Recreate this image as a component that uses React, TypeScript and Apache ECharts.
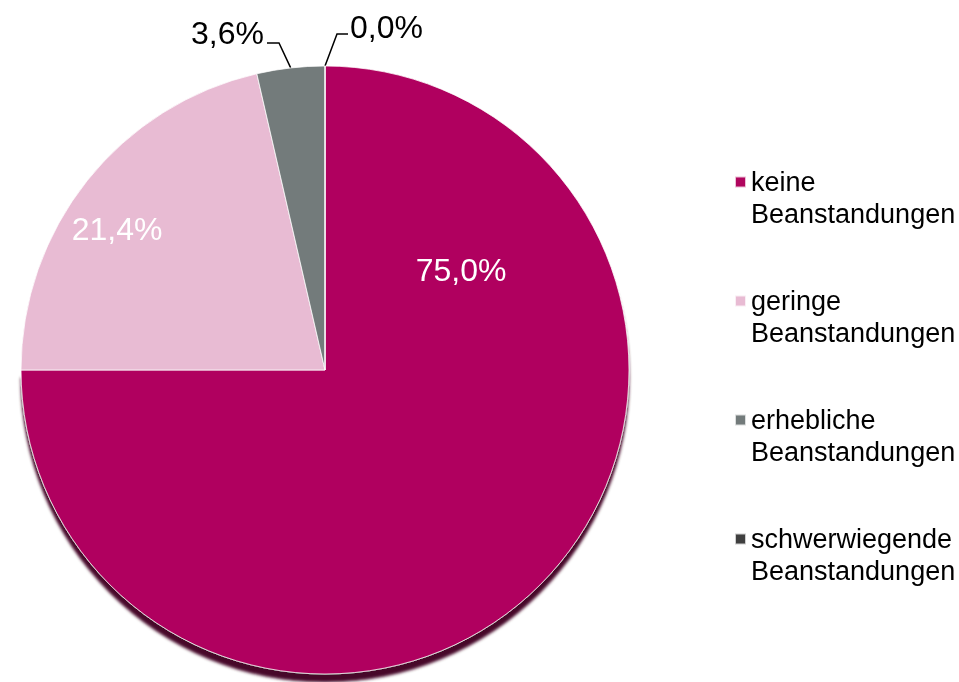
import React, { useEffect, useRef } from "react";
import * as echarts from "echarts";

const categories = [
  "keine\nBeanstandungen",
  "geringe\nBeanstandungen",
  "erhebliche\nBeanstandungen",
  "schwerwiegende\nBeanstandungen",
];
const values = [75.0, 21.4, 3.6, 0.0];
const colors = ["#B0065E", "#E8BBD3", "#737B7B", "#3F3F3F"];

const fmt = (v: number) => v.toFixed(1).replace(".", ",") + "%";

export default function App() {
  const ref = useRef<HTMLDivElement>(null);
  useEffect(() => {
    if (!ref.current) return;
    const chart = echarts.init(ref.current, null, { renderer: "svg" });
    const font = "'Liberation Sans', Arial, sans-serif";
    const data = categories.map((name, i) => {
      const inside = i < 2;
      return {
        name,
        value: values[i],
        itemStyle: {
          color: colors[i],
          ...(i === 0
            ? { shadowColor: "rgba(65,0,32,0.97)", shadowOffsetY: 8, shadowBlur: 3 }
            : {}),
        },
        label: inside
          ? { position: "inside", color: "#ffffff" }
          : { position: "outside", color: "#000000" },
        labelLine: inside ? { show: false } : { show: true, length: 26, length2: 12 },
      };
    });
    chart.setOption({
      animation: false,
      legend: {
        orient: "vertical",
        left: 729,
        top: 129,
        itemWidth: 11,
        itemHeight: 11,
        itemGap: 23,
        icon: "rect",
        selectedMode: false,
        formatter: (name: string) => " \n" + name,
        textStyle: {
          fontFamily: font,
          fontSize: 27,
          lineHeight: 32,
          color: "#000",
        },
        data: categories,
      },
      series: [
        {
          type: "pie",
          center: [325, 370],
          radius: 304,
          startAngle: 90,
          clockwise: true,
          avoidLabelOverlap: false,
          itemStyle: { borderColor: "rgba(255,255,255,0.75)", borderWidth: 1 },
          label: {
            formatter: (p: any) => fmt(p.value),
            fontFamily: font,
            fontSize: 32,
          },
          labelLine: { lineStyle: { color: "#000", width: 1.5 } },
          labelLayout: (p: any) => {
            if (p.dataIndex === 0) return { x: 461, y: 270, align: "center", verticalAlign: "middle" };
            if (p.dataIndex === 1) return { x: 117, y: 229, align: "center", verticalAlign: "middle" };
            const pts = p.labelLinePoints;
            const start = pts && pts[0] ? pts[0] : [325, 66];
            if (p.dataIndex === 2) {
              return {
                x: 264,
                y: 33,
                align: "right",
                verticalAlign: "middle",
                labelLinePoints: [start, [279, 43], [267, 43]],
              };
            }
            return {
              x: 350,
              y: 27,
              align: "left",
              verticalAlign: "middle",
              labelLinePoints: [start, [337, 34], [348, 34]],
            };
          },
          emphasis: { disabled: true },
          data,
        },
      ],
    });
    return () => chart.dispose();
  }, []);
  return (
    <div
      ref={ref}
      style={{ position: "fixed", left: 0, top: 0, width: 959, height: 682 }}
    />
  );
}
